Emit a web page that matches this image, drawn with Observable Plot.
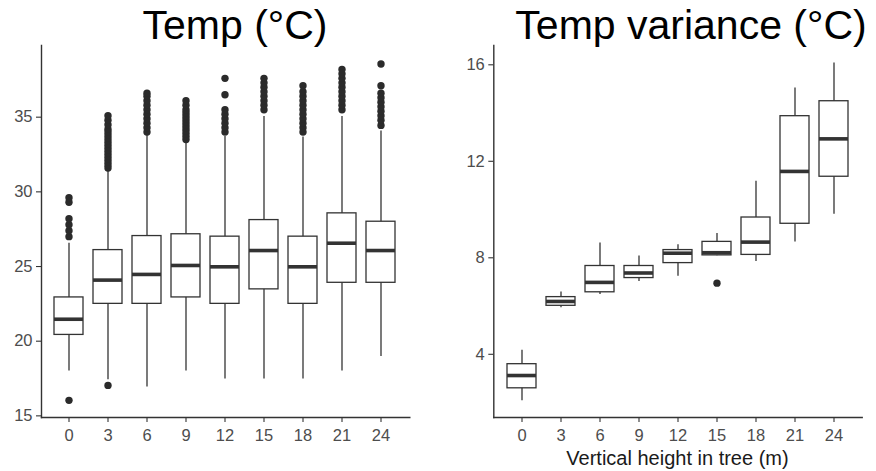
<!DOCTYPE html>
<html>
<head>
<meta charset="utf-8">
<script src="https://cdn.jsdelivr.net/npm/d3@7"></script>
<script src="https://cdn.jsdelivr.net/npm/@observablehq/plot@0.6"></script>
<style>
  html, body { margin: 0; padding: 0; background: #fff; }
  #wrap { position: relative; width: 876px; height: 471px; overflow: hidden; }
  #wrap svg { position: absolute; top: 0; }
</style>
</head>
<body>
<div id="wrap"></div>
<script>
// ---- Data ----
const heights = [0, 3, 6, 9, 12, 15, 18, 21, 24];

// Temp (°C)
const tempQ1  = [20.42, 22.5, 22.5, 22.93, 22.5, 23.47, 22.5, 23.91, 23.91];
const tempMed = [21.47, 24.09, 24.47, 25.07, 24.98, 26.07, 24.98, 26.56, 26.07];
const tempQ3  = [22.93, 26.1, 27.04, 27.16, 27.0, 28.11, 27.0, 28.56, 28.0];
const tempLo  = [18.0, 17.42, 16.93, 18.0, 17.47, 17.47, 17.47, 18.0, 18.98];
const tempHi  = [26.56, 31.44, 33.78, 33.44, 33.7, 35.04, 33.67, 35.04, 34.07];
const tempOutliers = [
  [16.04, 27.0, 27.4, 27.8, 28.2, 29.3, 29.6],
  [17.04, 31.6, 31.8, 32.0, 32.2, 32.4, 32.6, 32.8, 33.0, 33.2, 33.4, 33.6, 33.8, 34.0, 34.2, 34.5, 34.8, 35.1],
  [34.0, 34.3, 34.6, 34.9, 35.2, 35.5, 35.8, 36.1, 36.4, 36.6],
  [33.5, 33.7, 33.9, 34.1, 34.3, 34.5, 34.7, 34.9, 35.1, 35.3, 35.5, 35.8, 36.1],
  [34.0, 34.3, 34.6, 34.9, 35.2, 35.5, 36.5, 37.6],
  [35.5, 35.8, 36.1, 36.4, 36.7, 37.0, 37.3, 37.6],
  [34.0, 34.3, 34.6, 34.9, 35.2, 35.5, 35.8, 36.1, 36.4, 36.7, 37.1],
  [35.5, 35.8, 36.1, 36.4, 36.7, 37.0, 37.3, 37.6, 37.9, 38.2],
  [34.45, 34.8, 35.1, 35.4, 35.7, 36.0, 36.3, 36.6, 37.1, 38.56]
];
const tempTicks = [15, 20, 25, 30, 35];

// Temp variance (°C)
const varQ1  = [2.59, 6.01, 6.57, 7.16, 7.78, 8.10, 8.12, 9.41, 11.36];
const varMed = [3.12, 6.19, 6.98, 7.37, 8.19, 8.21, 8.65, 11.58, 12.93];
const varQ3  = [3.59, 6.37, 7.66, 7.66, 8.32, 8.66, 9.67, 13.87, 14.49];
const varLo  = [2.07, 5.93, 6.48, 7.02, 7.23, 8.08, 7.85, 8.65, 9.8];
const varHi  = [4.17, 6.58, 8.61, 8.07, 8.54, 9.01, 11.17, 15.04, 16.07];
const varOutliers = [[], [], [], [], [], [6.95], [], [], []];
const varTicks = [4, 8, 12, 16];

const titleLeft = "Temp (°C)";
const titleRight = "Temp variance (°C)";
const xTitle = "Vertical height in tree (m)";

// ---- Build tables ----
function boxTable(q1, med, q3, lo, hi) {
  return heights.map((h, i) => ({h, q1: q1[i], med: med[i], q3: q3[i], lo: lo[i], hi: hi[i]}));
}
function outTable(outs) {
  return heights.flatMap((h, i) => outs[i].map(v => ({h, v})));
}

const INK = "#333333";
function panel({boxes, outs, yDomain, yTicks, width, marginLeft, marginRight}) {
  return Plot.plot({
    width, height: 471,
    marginLeft, marginRight, marginTop: 45, marginBottom: 54,
    style: {fontFamily: "'Liberation Sans', Arial, sans-serif", fontSize: "16.5px", color: "#4d4d4d", background: "transparent"},
    x: {type: "band", domain: heights, paddingInner: 0.247, paddingOuter: 0.244, align: 0.5, label: null},
    y: {domain: yDomain, label: null},
    marks: [
      Plot.ruleX(boxes, {x: "h", y1: "lo", y2: "hi", stroke: INK, strokeWidth: 1.3}),
      Plot.barY(boxes, {x: "h", y1: "q1", y2: "q3", fill: "white", stroke: INK, strokeWidth: 1.3}),
      Plot.tickY(boxes, {x: "h", y: "med", stroke: INK, strokeWidth: 3.6}),
      Plot.dot(outs, {x: "h", y: "v", r: 3.7, fill: "#2b2b2b", stroke: "none"}),
      Plot.axisY({ticks: yTicks, tickSize: 5, tickPadding: 4, stroke: INK, strokeWidth: 1.1, fill: "#4d4d4d", label: null}),
      Plot.axisX({tickSize: 5, tickPadding: 7, stroke: INK, strokeWidth: 1.1, fill: "#4d4d4d", label: null}),
      Plot.frame({anchor: "left", stroke: INK, strokeWidth: 1.4}),
      Plot.frame({anchor: "bottom", stroke: INK, strokeWidth: 1.4})
    ]
  });
}

const wrap = document.getElementById("wrap");

const left = panel({
  boxes: boxTable(tempQ1, tempMed, tempQ3, tempLo, tempHi),
  outs: outTable(tempOutliers),
  yDomain: [14.89, 39.8], yTicks: tempTicks,
  width: 440, marginLeft: 41, marginRight: 30.7
});
left.style.left = "0px";
wrap.appendChild(left);

const right = panel({
  boxes: boxTable(varQ1, varMed, varQ3, varLo, varHi),
  outs: outTable(varOutliers),
  yDomain: [1.38, 16.8], yTicks: varTicks,
  width: 436, marginLeft: 53.3, marginRight: 14.3
});
right.style.left = "440px";
wrap.appendChild(right);

// ---- Titles overlay ----
const over = d3.select(wrap).append("svg")
  .attr("width", 876).attr("height", 471)
  .style("left", "0px").style("pointer-events", "none");
over.append("text").text(titleLeft)
  .attr("x", 235).attr("y", 38.5).attr("text-anchor", "middle")
  .style("font-family", "'Liberation Sans', Arial, sans-serif").style("font-size", "41px").attr("fill", "#000");
over.append("text").text(titleRight)
  .attr("x", 691).attr("y", 38.5).attr("text-anchor", "middle")
  .style("font-family", "'Liberation Sans', Arial, sans-serif").style("font-size", "41px").attr("fill", "#000");
over.append("text").text(xTitle)
  .attr("x", 677.5).attr("y", 465).attr("text-anchor", "middle")
  .style("font-family", "'Liberation Sans', Arial, sans-serif").style("font-size", "20px").attr("fill", "#1a1a1a");
</script>
</body>
</html>
